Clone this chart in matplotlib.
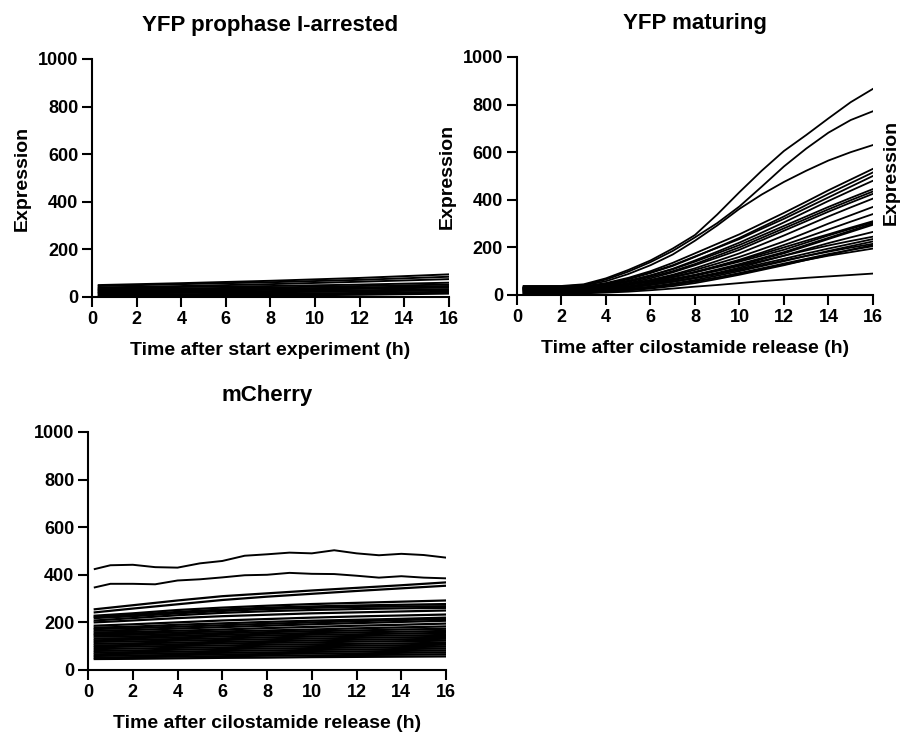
import matplotlib
matplotlib.use("Agg")
import matplotlib.pyplot as plt

plt.rcParams['font.family'] = ['Liberation Sans', 'DejaVu Sans']
plt.rcParams['font.weight'] = 'bold'
plt.rcParams['axes.labelweight'] = 'bold'
plt.rcParams['axes.titleweight'] = 'bold'

# ---------- time points (h) ----------
t_prophase = [0.3, 4, 8, 12, 16]
t_maturing = [0.3, 2, 3, 4, 5, 6, 7, 8, 9, 10, 11, 12, 13, 14, 15, 16]
t_cherry = [0.3, 2, 4, 6, 8, 10, 12, 14, 16]
t_cherry_fine = [0.3, 1, 2, 3, 4, 5, 6, 7, 8, 9, 10, 11, 12, 13, 14, 15, 16]

# ---------- YFP prophase I-arrested (one row per oocyte) ----------
prophase_cells = [
    [50, 58, 68, 80, 95],
    [46, 54, 62, 72, 85],
    [40, 46, 54, 64, 75],
    [38, 42, 46, 52, 60],
    [33, 36, 40, 46, 52],
    [30, 32, 34, 37, 42],
    [28, 31, 35, 40, 46],
    [24, 26, 30, 34, 40],
    [20, 22, 25, 28, 33],
    [18, 20, 22, 25, 30],
    [15, 17, 20, 23, 28],
    [10, 12, 14, 17, 22],
    [6, 8, 10, 13, 17],
    [2, 4, 6, 9, 14],
]

# ---------- YFP maturing ----------
maturing_cells = [
    [38, 38, 45, 70, 105, 145, 195, 252, 338, 432, 522, 605, 672, 742, 810, 866],
    [35, 36, 42, 65, 98, 138, 185, 242, 302, 372, 455, 540, 615, 682, 735, 772],
    [33, 34, 40, 58, 88, 125, 170, 228, 292, 362, 422, 475, 522, 565, 600, 630],
    [30, 32, 36, 50, 72, 100, 135, 175, 215, 255, 300, 345, 392, 440, 485, 530],
    [28, 30, 34, 46, 66, 92, 122, 160, 200, 240, 285, 330, 378, 425, 470, 515],
    [32, 33, 36, 48, 68, 95, 125, 162, 198, 235, 278, 320, 365, 410, 455, 500],
    [25, 27, 30, 40, 58, 82, 110, 145, 182, 220, 262, 305, 350, 395, 438, 480],
    [30, 31, 34, 44, 60, 82, 108, 140, 175, 210, 250, 290, 330, 370, 408, 445],
    [26, 28, 31, 40, 55, 76, 100, 130, 165, 200, 240, 280, 320, 360, 398, 435],
    [22, 24, 27, 35, 50, 70, 95, 125, 157, 190, 230, 270, 310, 350, 388, 425],
    [20, 22, 25, 32, 45, 63, 85, 112, 143, 175, 212, 250, 290, 330, 368, 405],
    [24, 25, 28, 34, 46, 62, 82, 105, 132, 160, 192, 225, 262, 300, 335, 370],
    [18, 20, 23, 30, 42, 57, 75, 97, 122, 148, 178, 210, 242, 275, 308, 340],
    [26, 27, 29, 34, 44, 58, 75, 95, 120, 145, 172, 200, 228, 255, 283, 310],
    [28, 29, 31, 36, 46, 60, 76, 95, 117, 140, 165, 190, 220, 250, 278, 305],
    [15, 17, 20, 26, 36, 50, 66, 85, 107, 130, 155, 180, 210, 240, 270, 300],
    [20, 21, 23, 28, 36, 48, 62, 80, 102, 125, 150, 175, 205, 235, 265, 295],
    [12, 14, 17, 22, 30, 42, 56, 73, 93, 115, 140, 165, 192, 218, 242, 265],
    [30, 30, 32, 36, 44, 55, 68, 84, 102, 122, 143, 165, 187, 208, 227, 245],
    [16, 17, 19, 24, 32, 43, 56, 72, 90, 110, 131, 152, 174, 195, 215, 235],
    [10, 12, 14, 18, 25, 35, 48, 63, 81, 100, 121, 142, 164, 185, 205, 225],
    [22, 22, 24, 28, 34, 44, 56, 70, 87, 105, 125, 145, 164, 182, 199, 215],
    [6, 7, 9, 13, 19, 27, 37, 50, 67, 85, 105, 125, 147, 168, 190, 210],
    [8, 9, 11, 15, 21, 30, 42, 56, 73, 92, 112, 132, 152, 172, 189, 205],
    [14, 15, 17, 20, 26, 34, 45, 58, 73, 90, 109, 128, 147, 165, 180, 195],
    [5, 6, 7, 10, 14, 20, 27, 35, 42, 50, 58, 65, 72, 78, 84, 90],
]

# ---------- mCherry ----------
cherry_top_cells = [
    [424, 440, 442, 432, 430, 448, 458, 480, 486, 493, 490, 503, 490, 482, 488, 483, 472],
    [347, 362, 362, 360, 376, 381, 389, 398, 400, 408, 404, 403, 396, 388, 394, 388, 385],
]
cherry_cells = [
    [255, 272, 292, 310, 322, 334, 345, 356, 368],
    [242, 258, 276, 294, 308, 320, 332, 343, 354],
    [228, 238, 252, 262, 270, 277, 282, 287, 292],
    [224, 232, 244, 254, 262, 267, 271, 274, 277],
    [218, 226, 238, 248, 256, 261, 265, 267, 268],
    [208, 218, 230, 240, 247, 252, 256, 259, 261],
    [200, 208, 218, 226, 232, 238, 242, 246, 250],
    [186, 192, 200, 208, 214, 220, 225, 229, 233],
    [178, 182, 190, 196, 202, 207, 211, 215, 220],
    [172, 176, 182, 188, 194, 200, 205, 210, 214],
    [165, 168, 174, 180, 186, 192, 197, 202, 207],
    [158, 160, 165, 170, 176, 181, 186, 190, 195],
    [152, 154, 158, 162, 166, 170, 175, 179, 183],
    [146, 148, 151, 155, 159, 163, 166, 170, 173],
    [140, 141, 144, 148, 152, 155, 158, 161, 164],
    [132, 134, 137, 141, 145, 148, 150, 153, 156],
    [125, 127, 130, 133, 137, 140, 143, 145, 147],
    [118, 120, 123, 126, 129, 132, 135, 137, 139],
    [110, 112, 115, 118, 121, 124, 127, 129, 131],
    [103, 105, 108, 111, 114, 116, 119, 121, 123],
    [96, 98, 101, 103, 106, 108, 110, 112, 114],
    [88, 90, 93, 95, 98, 100, 102, 104, 106],
    [80, 82, 85, 88, 90, 92, 94, 96, 98],
    [73, 75, 77, 80, 82, 84, 86, 88, 90],
    [66, 68, 70, 72, 74, 76, 78, 80, 82],
    [59, 61, 63, 65, 67, 69, 70, 72, 74],
    [52, 54, 56, 58, 60, 61, 63, 64, 66],
    [46, 47, 49, 51, 52, 54, 55, 56, 57],
]

x_ticks = [0, 2, 4, 6, 8, 10, 12, 14, 16]
y_ticks = [0, 200, 400, 600, 800, 1000]


def style_axis(ax, title, xlabel, ylabel=None, title_pad=20):
    ax.set_xlim(0, 16)
    ax.set_ylim(0, 1000)
    ax.set_xticks(x_ticks)
    ax.set_yticks(y_ticks)
    for side in ['top', 'right']:
        ax.spines[side].set_visible(False)
    for side in ['left', 'bottom']:
        ax.spines[side].set_linewidth(1.5)
    ax.tick_params(width=1.5, length=7, labelsize=13, pad=3)
    ax.set_title(title, fontsize=16, pad=title_pad)
    ax.set_xlabel(xlabel, fontsize=14, labelpad=10)
    if ylabel:
        ax.set_ylabel(ylabel, fontsize=14)
        ax.yaxis.set_label_coords(-0.172, 0.5)


fig = plt.figure(figsize=(9.03, 7.36), dpi=100)

ax1 = fig.add_axes([0.1019, 0.5965, 0.3953, 0.3234])
for cell in prophase_cells:
    ax1.plot(t_prophase, cell, color='black', lw=1.4)
style_axis(ax1, 'YFP prophase I-arrested', 'Time after start experiment (h)', 'Expression')

ax2 = fig.add_axes([0.5725, 0.5992, 0.3942, 0.3234])
for cell in maturing_cells:
    ax2.plot(t_maturing, cell, color='black', lw=1.3)
style_axis(ax2, 'YFP maturing', 'Time after cilostamide release (h)', 'Expression')

ax3 = fig.add_axes([0.0975, 0.0897, 0.3965, 0.3234])
for cell in cherry_cells:
    ax3.plot(t_cherry, cell, color='black', lw=1.6)
for cell in cherry_top_cells:
    ax3.plot(t_cherry_fine, cell, color='black', lw=1.4)
style_axis(ax3, 'mCherry', 'Time after cilostamide release (h)', title_pad=22)

# cut-off label of a neighbouring panel on the right edge
fig.text(891 / 903, 1 - 172 / 736, 'Expression', rotation=90, fontsize=14,
         ha='center', va='center')

plt.savefig('out.png', dpi=100)
